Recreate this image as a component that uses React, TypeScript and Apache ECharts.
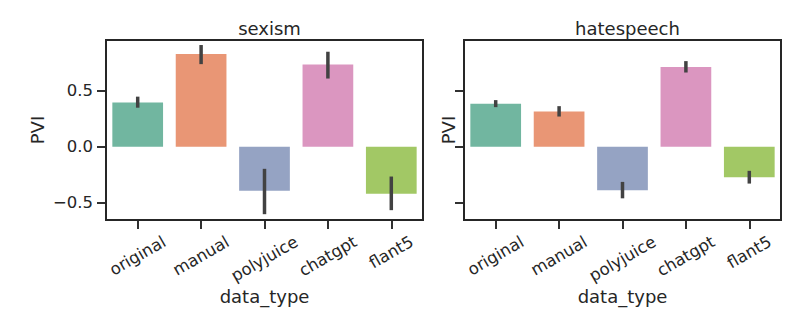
import React, { useEffect, useRef } from 'react';
import * as echarts from 'echarts';

const categories = ['original', 'manual', 'polyjuice', 'chatgpt', 'flant5'];
const panelTitles = ['sexism', 'hatespeech'];

const sexismMean = [0.396, 0.829, -0.394, 0.736, -0.42];
const sexismLow = [0.349, 0.739, -0.604, 0.61, -0.568];
const sexismHigh = [0.448, 0.91, -0.198, 0.85, -0.267];

const hateMean = [0.385, 0.315, -0.39, 0.714, -0.273];
const hateLow = [0.354, 0.27, -0.462, 0.664, -0.33];
const hateHigh = [0.417, 0.363, -0.315, 0.766, -0.216];

const yTicks = [-0.5, 0, 0.5];
const barColors = ['#71b6a0', '#e99675', '#95a3c3', '#db96c0', '#a2c865'];

const INK = '#262626';
const FONT = 'DejaVu Sans';

function fmt(v: number) {
  return v < 0 ? '\u2212' + Math.abs(v).toFixed(1) : v.toFixed(1);
}

export default function App() {
  const ref = useRef<HTMLDivElement>(null);
  useEffect(() => {
    if (!ref.current) return;
    const chart = echarts.init(ref.current, undefined, { renderer: 'svg' });
    const grids = [
      { left: 106, top: 40, width: 317, height: 180 },
      { left: 464, top: 40, width: 317, height: 180 },
    ];
    const means = [sexismMean, hateMean];
    const lows = [sexismLow, hateLow];
    const highs = [sexismHigh, hateHigh];
    const tickStyle = { color: INK, width: 1.9 };
    const option: any = {
      animation: false,
      backgroundColor: '#ffffff',
      title: panelTitles.map((t, i) => ({
        text: t,
        left: grids[i].left + grids[i].width / 2,
        top: 14,
        textAlign: 'center',
        textStyle: { fontSize: 18, fontWeight: 'normal', color: INK, fontFamily: FONT },
      })),
      grid: grids.map((g) => ({
        ...g,
        show: true,
        borderColor: INK,
        borderWidth: 2,
        backgroundColor: 'transparent',
      })),
      xAxis: grids.map((g, i) => ({
        type: 'category',
        gridIndex: i,
        data: categories,
        axisLine: { show: false, onZero: false },
        axisTick: { show: true, alignWithLabel: true, length: 9, lineStyle: tickStyle },
        axisLabel: { show: false },
        splitLine: { show: false },
        name: 'data_type',
        nameLocation: 'middle',
        nameGap: 67,
        nameTextStyle: { fontSize: 18, color: INK, fontFamily: FONT },
      })),
      yAxis: grids.map((g, i) => ({
        type: 'value',
        gridIndex: i,
        min: -0.656,
        max: 0.955,
        axisLine: { show: false },
        splitLine: { show: false },
        axisTick: { show: true, length: 9, lineStyle: tickStyle, customValues: yTicks },
        axisLabel: {
          show: i === 0,
          customValues: yTicks,
          margin: 13,
          fontSize: 16.5,
          color: INK,
          fontFamily: FONT,
          formatter: (v: number) => fmt(v),
        },
        name: 'PVI',
        nameLocation: 'middle',
        nameGap: i === 0 ? 60 : 7,
        nameTextStyle: { fontSize: 18, color: INK, fontFamily: FONT },
      })),
      series: [0, 1].flatMap((i) => [
        {
          type: 'bar',
          xAxisIndex: i,
          yAxisIndex: i,
          barWidth: '80%',
          data: means[i].map((v, k) => ({ value: v, itemStyle: { color: barColors[k] } })),
        },
        {
          type: 'custom',
          xAxisIndex: i,
          yAxisIndex: i,
          z: 10,
          data: categories.map((c, k) => [k, lows[i][k], highs[i][k]]),
          renderItem: (params: any, api: any) => {
            const x = api.value(0);
            const p1 = api.coord([x, api.value(1)]);
            const p2 = api.coord([x, api.value(2)]);
            return {
              type: 'line',
              shape: { x1: p1[0], y1: p1[1], x2: p2[0], y2: p2[1] },
              style: { stroke: '#424242', lineWidth: 3.5 },
            };
          },
        },
      ]),
    };
    chart.setOption(option);

    const canvas = document.createElement('canvas');
    const ctx = canvas.getContext('2d')!;
    ctx.font = `16.5px '${FONT}'`;
    const graphics: any[] = [];
    [0, 1].forEach((ai) => {
      const bottom = grids[ai].top + grids[ai].height;
      categories.forEach((c, k) => {
        const px = chart.convertToPixel({ xAxisIndex: ai } as any, k) as any as number;
        const w = ctx.measureText(c).width;
        const H = w * 0.5 + 19.2 * 0.866;
        const y = bottom + 12 + H / 2;
        graphics.push({
          type: 'text',
          x: px,
          y,
          rotation: Math.PI / 6,
          style: {
            text: c,
            fontSize: 16.5,
            fontFamily: FONT,
            fill: INK,
            align: 'center',
            verticalAlign: 'middle',
            textAlign: 'center',
            textVerticalAlign: 'middle',
          },
        });
      });
    });
    chart.setOption({ graphic: graphics });

    return () => chart.dispose();
  }, []);
  return (
    <div
      ref={ref}
      style={{ position: 'fixed', left: 0, top: 0, width: 801, height: 328 }}
    />
  );
}
